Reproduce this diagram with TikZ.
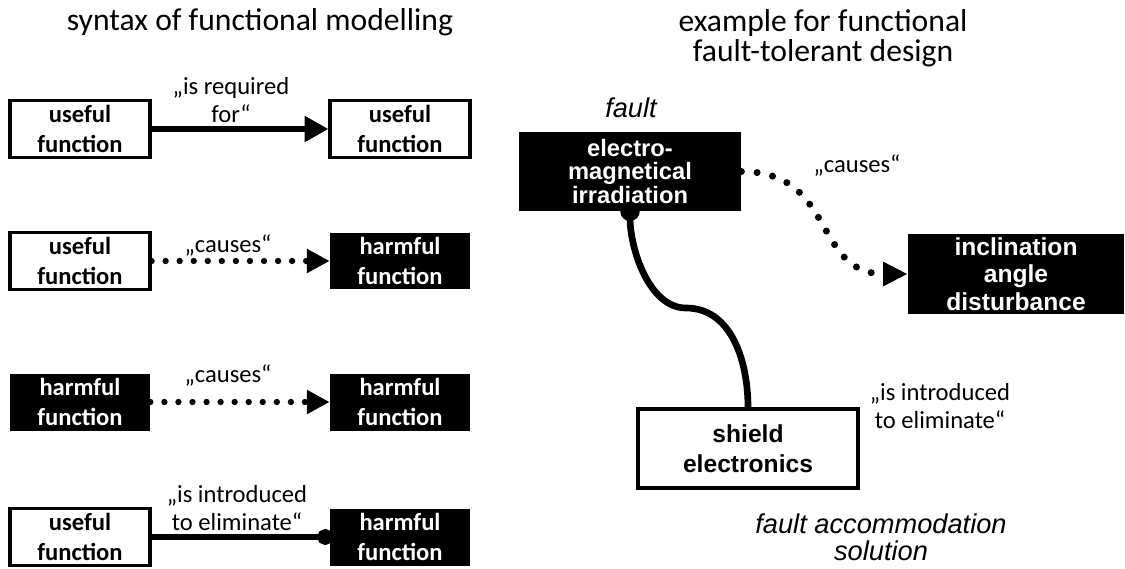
\documentclass[tikz,border=0pt]{standalone}
\usepackage{fontspec}
\setmainfont{Carlito}
\newfontfamily\arialfont{Liberation Sans}
\usetikzlibrary{arrows.meta}
\tikzset{
    functionnode/.style = {
        align=center,
        inner sep=0pt,
        rectangle,
        minimum width=2.8cm,
        minimum height=1.14cm,
        font=\fontsize{14}{17}\selectfont\bfseries
    },
    usefulnode/.style = {
        functionnode,
        draw=black,
        line width=1.8pt,
        fill=white
    },
    harmfulnode/.style = {
        functionnode,
        fill=black,
        text=white
    },
    examplenode/.style = {
        align=center,
        inner sep=0pt,
        rectangle,
        minimum width=4.4cm,
        minimum height=1.58cm,
        font=\arialfont\fontsize{14}{15.5}\selectfont\bfseries
    },
    relationlabel/.style = {
        align=center,
        inner sep=0pt,
        font=\fontsize{14}{15.5}\selectfont
    },
    titlelabel/.style = {
        align=center,
        inner sep=0pt,
        font=\fontsize{18}{17}\selectfont
    },
    rolelabel/.style = {
        align=center,
        inner sep=0pt,
        font=\arialfont\itshape\fontsize{15.5}{15.5}\selectfont
    },
    requiredarrow/.style = {
        line width=3.8pt,
        -{Triangle[length=13.5pt, width=14pt]}
    },
    causesarrow/.style = {
        line width=3.6pt,
        line cap=round,
        dash pattern=on 0pt off 8pt,
        -{Triangle[length=13pt, width=13pt]}
    },
    eliminateline/.style = {
        line width=3.8pt,
        -{Circle[length=9pt]},
        shorten >=-2pt
    }
}

\begin{document}
\begin{tikzpicture}[x=0.02cm, y=-0.02cm]
    \useasboundingbox (0,0) rectangle (1125,568);

    % syntax
    \node [titlelabel] (syntaxtitle) at (260,22) {syntax of functional modelling};

    \node [usefulnode] (useful1) at (80,129) {useful\\function};
    \node [usefulnode] (useful2) at (400,129) {useful\\function};
    \node [relationlabel] (required) at (231,100) {„is required\\for“};
    \draw [requiredarrow] (useful1.east) -- (useful2.west);

    \node [usefulnode] (useful3) at (80,261) {useful\\function};
    \node [harmfulnode] (harmful3) at (400,261) {harmful\\function};
    \node [relationlabel] (causes3) at (228,245) {„causes“};
    \draw [causesarrow] (useful3.east) -- (harmful3.west);

    \node [harmfulnode] (harmful4) at (80,402) {harmful\\function};
    \node [harmfulnode] (harmful5) at (400,402) {harmful\\function};
    \node [relationlabel] (causes4) at (228,375) {„causes“};
    \draw [causesarrow] (harmful4.east) -- (harmful5.west);

    \node [usefulnode] (useful6) at (80,537) {useful\\function};
    \node [harmfulnode] (harmful6) at (400,537) {harmful\\function};
    \node [relationlabel] (eliminate6) at (237,508) {„is introduced\\to eliminate“};
    \draw [eliminateline] (useful6.east) -- (harmful6.west);

    % example
    \node [titlelabel] (exampletitle) at (823,38) {example for functional\\fault-tolerant design};

    \node [rolelabel] (faultlabel) at (631,108) {fault};
    \node [examplenode, fill=black, text=white, minimum width=4.44cm,
           font=\arialfont\fontsize{13.5}{13.5}\selectfont\bfseries]
        (irradiation) at (630,171.5) {electro-\\magnetical\\irradiation};
    \node [examplenode, fill=black, text=white, minimum width=4.32cm, minimum height=1.6cm]
        (inclination) at (1016,274) {inclination\\angle\\disturbance};
    \node [examplenode, draw=black, line width=1.8pt, fill=white,
           font=\arialfont\fontsize{14}{17}\selectfont\bfseries]
        (shield) at (748,448.5) {shield\\electronics};

    \node [relationlabel] (causesright) at (857,165) {„causes“};
    \node [relationlabel] (eliminateright) at (940,406) {„is introduced\\to eliminate“};
    \node [rolelabel] (solutionlabel) at (881,537) {fault accommodation\\solution};

    \draw [causesarrow, line width=4pt, dash pattern=on 0pt off 9pt,
           -{Triangle[length=14pt, width=13pt]}]
        (irradiation.east) to[out=0, in=180, looseness=1.25] (inclination.west);

    \coordinate (bend) at (686,308);
    \draw [line width=3.8pt, {Circle[length=11pt]}-, shorten <=-5.5pt]
        (irradiation.south) to[out=-90, in=180, looseness=0.85] (bend)
        to[out=0, in=90] (shield.north);
\end{tikzpicture}
\end{document}
